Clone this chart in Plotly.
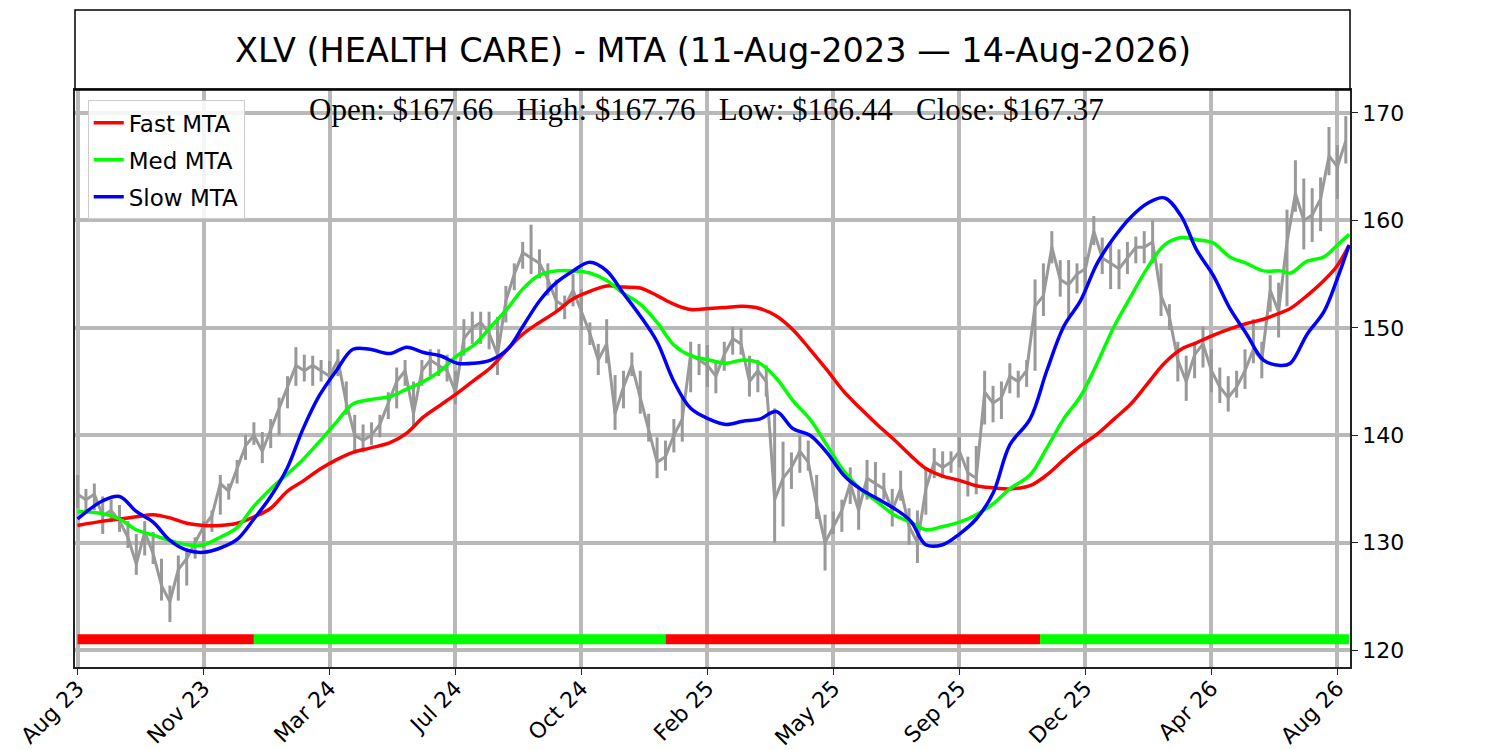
import plotly.graph_objects as go
import numpy as np

# eixo x: índice de pregões (barras agregadas a cada 5 pregões)
price_days = list(range(0, 756, 5))
close = [
    134.5, 134, 134.5, 132.5, 133, 132, 130.5, 128, 131, 129, 126, 124.5, 127.5, 128.5, 130, 131.5,
    132.5, 135.5, 134.8, 137, 139, 140, 138.5, 140.5, 142.5, 144.5, 146.5, 146, 146.5, 146, 145.5,
    147, 143, 140, 139.5, 140, 141, 143, 145,
    146, 142, 146, 147, 146.5, 146, 144, 149, 150, 150.5, 149.5, 147.5, 152.5, 155, 157, 156.5, 156,
    154.5, 152.5, 152, 153.5, 151.5, 149.5, 147, 148.5, 142, 144.5, 146.5, 143.5, 140.5, 137.5, 138,
    140, 141.5, 147.5, 147, 146.5, 145.5,
    147.5, 149, 148.5, 145, 146, 145, 134, 136, 137, 138.5, 137.5, 133.5, 130, 131.5, 133, 135.5,
    133, 136, 135.5, 135, 133, 135, 131.5, 130, 135, 137.5, 137, 137.5, 138.5, 136.5, 136, 144, 143,
    143.5, 145.5, 145, 146, 152,
    153, 157.5, 154.5, 154, 155, 155.5, 159, 156.5, 156, 155.5, 156.5, 157.5, 157.5, 158, 153, 151,
    147, 145, 147.5, 148.5, 146, 144.5, 143.5, 144.5, 146, 148, 147, 153.5, 151.5, 158, 162.5, 160,
    160.5, 162, 166, 165, 167.4,
]
high = [
    136.3, 135, 135.5, 134.3, 134, 133.5, 132, 130.8, 132, 131, 128.5, 126, 128.8, 129.5, 130.5, 132,
    133, 136.3, 135.5, 137.7, 140, 141.2, 140.3, 141.5, 143.5, 145.5, 148.2, 147.5, 147.4, 147, 146.9,
    148, 145, 141.9, 141, 141.2, 141.9, 144, 146.3,
    147, 145, 147, 148, 148, 147.5, 146, 150.8, 151.5, 151.5, 151.5, 151, 153.9, 156, 158, 159.6,
    157.3, 156, 154.5, 153, 155, 153.6, 150.5, 148.5, 150.8, 145.6, 146, 147.7, 146, 142, 139.8,
    139.5, 141.5, 143.6, 148.7, 148.5, 148.4, 147,
    148.7, 150.1, 150, 147.4, 147, 146.5, 142.5, 139.4, 138.4, 140, 139.5, 136.3, 132.6, 132.9, 134,
    137, 135, 137.7, 137.5, 136.5, 135, 136.7, 133.2, 133, 137, 138.8, 138.5, 138.5, 139.8, 138, 139,
    146, 144.6, 145, 146.7, 146, 147, 154.5,
    156, 159, 156.3, 156.3, 156, 156.6, 160.4, 158.4, 158, 157.3, 158, 158.5, 159, 160, 156, 152.2,
    148.7, 147.4, 148.7, 150.1, 148, 146.3, 145.5, 146, 148, 150.8, 148.7, 154.9, 154.2, 161, 165.6,
    163.9, 163, 164, 168.7, 167, 169.7,
]
low = [
    133.2, 133, 133, 130.8, 131.9, 131, 129.5, 127, 128.8, 128, 124.6, 122.6, 124.6, 126, 128.5,
    129.5, 131, 132.6, 134, 135.5, 137.7, 139.1, 137.4, 138.8, 140, 142.5, 144.6, 145, 144.6, 145,
    144.6, 145.5, 141.9, 138.4, 138.4, 139.1, 139.8, 141.5, 142.5,
    144.6, 140.8, 144.6, 145.5, 145.5, 145, 142.9, 147.4, 148.5, 148.5, 148, 145.6, 150.5, 153.5,
    155.5, 155, 154.6, 153, 151.5, 150.8, 152, 149.8, 148.4, 145.6, 146.7, 140.5, 142.5, 145.5, 142,
    139.4, 136, 136.7, 138.4, 139.4, 144, 145.6, 144.5, 143.9,
    146, 147.5, 147.5, 143.6, 144, 143.6, 130, 131.5, 135, 136.5, 136.7, 132.2, 127.4, 130.8, 131,
    133.6, 131.2, 134, 134, 134, 131.5, 133.9, 129.8, 128.1, 132.6, 136, 136, 136.5, 137, 134.3,
    134.5, 141, 141.2, 141.5, 143.9, 143.5, 144.5, 146,
    151.1, 156, 152.9, 151, 153.2, 153.6, 157.7, 155, 153.6, 153.6, 155, 156, 156, 156, 151.1,
    149.8, 145, 143.2, 145.3, 146.3, 144, 143, 142.2, 143.5, 144.3, 146.7, 145.3, 151.5, 149.1, 152,
    160.8, 157.3, 158, 159, 164.2, 162, 165.3,
]

# médias MTA
mta_days = [
    0, 15, 25, 35, 45, 55, 65, 75, 85, 95, 105, 115, 125, 134, 144, 154, 164, 174, 186, 196, 206,
    216, 226, 236, 246, 256, 265, 275, 285, 295, 305, 315, 325, 335, 345, 355, 365, 376, 386, 396,
    406, 416, 426, 436, 446, 456, 466, 476, 486, 496, 505, 515, 525, 535, 545, 555, 567, 577, 587,
    597, 607, 617, 627, 637, 647, 657, 666, 676, 686, 696, 706, 716, 722, 732, 742, 750, 757,
]
fast_mta = [
    131.6, 132.0, 132.2, 132.4, 132.6, 132.3, 131.8, 131.6, 131.6, 131.8, 132.4, 133.2, 134.8, 135.7,
    136.8, 137.7, 138.4, 138.8, 139.3, 140.2, 141.7, 142.8, 143.9, 145.1, 146.3, 148.0, 149.4, 150.5,
    151.5, 152.7, 153.4, 153.9, 153.8, 153.7, 153.0, 152.2, 151.7, 151.8, 151.9, 152.0, 151.8, 151.1,
    149.8, 148.0, 146.1, 144.1, 142.5, 141.0, 139.6, 138.1, 136.9, 136.2, 135.8, 135.3, 135.1, 135.0,
    135.3, 136.3, 137.7, 139.0, 140.1, 141.5, 142.9, 144.8, 146.7, 148.0, 148.6, 149.3, 149.9, 150.4,
    150.8, 151.4, 151.8, 153.0, 154.4, 155.8, 157.7,
]
med_mta = [
    132.9, 132.7, 132.2, 131.2, 130.7, 130.2, 129.8, 129.8, 130.5, 131.4, 133.4, 135.0, 136.4, 137.7,
    139.4, 141.2, 142.9, 143.3, 143.6, 144.3, 145.0, 146.0, 147.4, 148.4, 150.1, 151.8, 153.6, 154.9,
    155.3, 155.3, 155.1, 154.4, 153.2, 152.2, 150.5, 148.4, 147.4, 147.0, 146.7, 147.0, 146.7, 145.3,
    143.2, 141.5, 139.1, 136.7, 135.0, 133.8, 132.6, 131.9, 131.2, 131.5, 131.9, 132.6, 133.6, 135.0,
    136.3, 138.8, 141.5, 143.6, 146.7, 150.1, 152.9, 155.6, 157.7, 158.4, 158.2, 157.9, 156.6, 156.0,
    155.3, 155.3, 155.1, 156.2, 156.6, 157.7, 158.7,
]
slow_mta = [
    132.2, 133.9, 134.3, 132.9, 131.9, 130.2, 129.3, 129.1, 129.5, 130.3, 132.2, 134.3, 137.0, 140.5,
    143.7, 146.0, 148.0, 148.0, 147.6, 148.2, 147.7, 147.4, 146.7, 146.7, 147.0, 148.0, 150.1, 152.5,
    154.2, 155.3, 156.1, 155.3, 153.2, 151.1, 148.7, 145.0, 142.5, 141.5, 141.0, 141.3, 141.5, 142.2,
    140.6, 140.0, 138.4, 136.3, 135.0, 134.1, 133.2, 132.0, 129.8, 129.8, 130.8, 132.2, 134.6, 139.1,
    141.5, 146.0, 150.1, 152.5, 156.0, 158.4, 160.3, 161.6, 162.1, 160.4, 157.3, 154.9, 151.8, 149.4,
    147.0, 146.5, 146.7, 149.4, 151.5, 154.6, 157.7,
]

# faixa de sinal no rodapé
signal_start = [0, 105, 350, 573]
signal_end = [105, 350, 573, 757]
signal_color = ["#ff0000", "#00ff00", "#ff0000", "#00ff00"]
signal_level = 121

tick_days = [0, 75, 150, 225, 300, 375, 450, 525, 600, 675, 750]
tick_labels = ["Aug 23", "Nov 23", "Mar 24", "Jul 24", "Oct 24", "Feb 25",
               "May 25", "Sep 25", "Dec 25", "Apr 26", "Aug 26"]

c = np.array(close)
fig = go.Figure()

# preço (barras máx/mín + fechamento)
fig.add_trace(go.Scatter(
    x=price_days, y=close, mode="lines",
    line=dict(color="#999999", width=3),
    error_y=dict(type="data", symmetric=False,
                 array=np.array(high) - c, arrayminus=c - np.array(low),
                 color="#999999", thickness=3, width=0),
    showlegend=False, hoverinfo="skip",
))

for name, vals, color in [("Fast MTA", fast_mta, "#ff0000"),
                          ("Med MTA", med_mta, "#00ff00"),
                          ("Slow MTA", slow_mta, "#0000ff")]:
    fig.add_trace(go.Scatter(
        x=mta_days, y=vals, mode="lines", name=name, legendgroup=name,
        line=dict(color=color, width=3.5, shape="spline", smoothing=1.0),
    ))

for s, e, col in zip(signal_start, signal_end, signal_color):
    fig.add_trace(go.Scatter(
        x=[s, e], y=[signal_level, signal_level], mode="lines",
        line=dict(color=col, width=10), showlegend=False, hoverinfo="skip",
    ))

grid = dict(showgrid=True, gridcolor="#b9b9b9", gridwidth=3.5, zeroline=False,
            showline=True, mirror=True, linecolor="#222222", linewidth=1.5,
            ticks="outside", ticklen=6, tickcolor="#222222", automargin=False,
            tickfont=dict(family="DejaVu Sans", size=22, color="black"))

# a página html tem 8px de margem no body
fig.update_layout(
    width=1500, height=750,
    margin=dict(l=67, r=158, t=82, b=91),
    plot_bgcolor="white", paper_bgcolor="white",
    xaxis=dict(range=[-1.5, 757.5], tickvals=tick_days, ticktext=tick_labels,
               tickangle=-45, ticklabelstandoff=-8, **grid),
    yaxis=dict(range=[118.42, 172.14], tickvals=[120, 130, 140, 150, 160, 170],
               side="right", **grid),
    legend=dict(x=0.01, y=0.982, xanchor="left", yanchor="top",
                bgcolor="rgba(255,255,255,0.85)", bordercolor="#cccccc", borderwidth=1,
                font=dict(family="DejaVu Sans", size=23, color="black"),
                itemwidth=30, tracegroupgap=4),
    shapes=[dict(type="rect", xref="paper", yref="paper", x0=0, x1=1, y0=1, y1=1.1386,
                 line=dict(color="black", width=1.5))],
    annotations=[
        dict(text="XLV (HEALTH CARE) - MTA (11-Aug-2023 \u2014 14-Aug-2026)",
             xref="paper", yref="paper", x=0.5, y=1.0693, showarrow=False,
             xanchor="center", yanchor="middle",
             font=dict(family="DejaVu Sans", size=33.5, color="black")),
        dict(text="Open: $167.66 &nbsp; High: $167.76 &nbsp; Low: $166.44 &nbsp; Close: $167.37",
             xref="paper", yref="paper", x=0.495, y=0.966, showarrow=False,
             xanchor="center", yanchor="middle",
             font=dict(family="Liberation Serif", size=31, color="black")),
    ],
)

fig.write_html("out.html")
